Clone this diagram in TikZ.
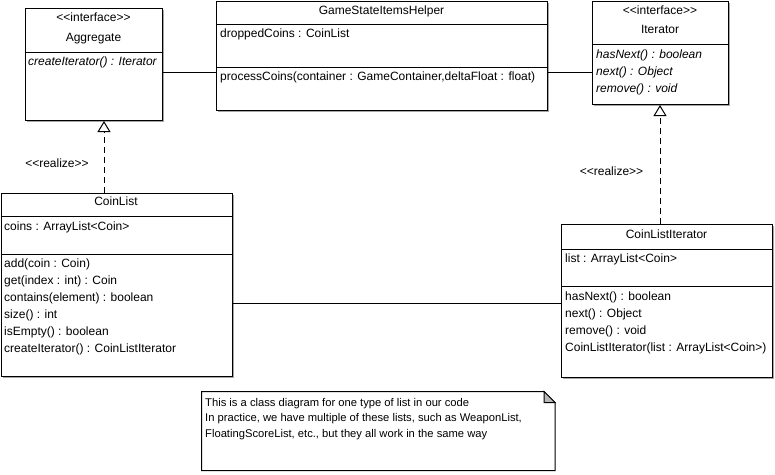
\documentclass[tikz,border=0pt]{standalone}
\usepackage{fontspec}
\setmainfont{Liberation Sans}
\usetikzlibrary{shadows,arrows.meta}

\tikzset{
  classbox/.style={draw=black, line width=1pt, fill=white, inner sep=0pt,
    anchor=north west,
    drop shadow={shadow xshift=1.5pt, shadow yshift=-1.5pt, fill=black!35, opacity=1}},
  txt/.style={inner sep=0pt, font=\fontsize{12}{14}\selectfont, text height=8.5pt, text depth=2.5pt},
  stereo/.style={txt},
  member/.style={txt, anchor=west},
  abstractop/.style={member, font=\fontsize{12}{14}\selectfont\itshape},
  notetext/.style={member, font=\fontsize{11.2}{13}\selectfont},
  divider/.style={line width=1pt},
  assoc/.style={line width=1pt},
  realize/.style={line width=1pt, dash pattern=on 6pt off 4pt,
    -{Triangle[open, length=11pt, width=13pt, line width=1pt]}},
  notebody/.style={draw=black, line width=1pt, fill=white},
  notefold/.style={draw=black, line width=1pt, fill=black!28, line join=miter},
}

\begin{document}
\begin{tikzpicture}[x=1pt, y=-1pt]
\useasboundingbox (0,0) rectangle (775,474);

% ---------- Aggregate interface ----------
\node[classbox, minimum width=137pt, minimum height=112pt] (agg) at (25,8) {};
\coordinate (aggdiv) at (0,52);
\draw[divider] (agg.west |- aggdiv) -- (agg.east |- aggdiv);
\node[stereo] (aggst) at (93.5,18) {<{}<interface>{}>};
\node[txt] (aggname) at (93.5,38) {Aggregate};
\node[abstractop] (aggop) at (28,62) {createIterator() : Iterator};

% ---------- GameStateItemsHelper ----------
\node[classbox, minimum width=331pt, minimum height=109.5pt] (helper) at (216,0.5) {};
\coordinate (helpdiva) at (0,24);
\coordinate (helpdivb) at (0,67);
\draw[divider] (helper.west |- helpdiva) -- (helper.east |- helpdiva);
\draw[divider] (helper.west |- helpdivb) -- (helper.east |- helpdivb);
\node[txt] (helpname) at (381.5,11) {GameStateItemsHelper};
\node[member] (helpattr) at (220,34) {droppedCoins : CoinList};
\node[member] (helpop) at (220,77) {processCoins(container : GameContainer,deltaFloat : float)};

% ---------- Iterator interface ----------
\node[classbox, minimum width=136pt, minimum height=103.5pt] (iter) at (592,0.5) {};
\coordinate (iterdiv) at (0,44);
\draw[divider] (iter.west |- iterdiv) -- (iter.east |- iterdiv);
\node[stereo] (iterst) at (660,11) {<{}<interface>{}>};
\node[txt] (itername) at (660,30) {Iterator};
\node[abstractop] (iterop1) at (596,55) {hasNext() : boolean};
\node[abstractop] (iterop2) at (596,72) {next() : Object};
\node[abstractop] (iterop3) at (596,89) {remove() : void};

% ---------- CoinList ----------
\node[classbox, minimum width=231.5pt, minimum height=183.5pt] (clist) at (0.5,192.5) {};
\coordinate (cldiva) at (0,216);
\coordinate (cldivb) at (0,254);
\draw[divider] (clist.west |- cldiva) -- (clist.east |- cldiva);
\draw[divider] (clist.west |- cldivb) -- (clist.east |- cldivb);
\node[txt] (clname) at (116,202) {CoinList};
\node[member] (clattr) at (4,227) {coins : ArrayList<Coin>};
\node[member] (clop1) at (4,264) {add(coin : Coin)};
\node[member] (clop2) at (4,281) {get(index : int) : Coin};
\node[member] (clop3) at (4,298) {contains(element) : boolean};
\node[member] (clop4) at (4,315) {size() : int};
\node[member] (clop5) at (4,332) {isEmpty() : boolean};
\node[member] (clop6) at (4,349) {createIterator() : CoinListIterator};

% ---------- CoinListIterator ----------
\node[classbox, minimum width=211pt, minimum height=152.5pt] (cliter) at (561,224) {};
\coordinate (cidiva) at (0,249);
\coordinate (cidivb) at (0,286);
\draw[divider] (cliter.west |- cidiva) -- (cliter.east |- cidiva);
\draw[divider] (cliter.west |- cidivb) -- (cliter.east |- cidivb);
\node[txt] (ciname) at (666.5,235) {CoinListIterator};
\node[member] (ciattr) at (565,259) {list : ArrayList<Coin>};
\node[member] (ciop1) at (565,297) {hasNext() : boolean};
\node[member] (ciop2) at (565,314) {next() : Object};
\node[member] (ciop3) at (565,331) {remove() : void};
\node[member] (ciop4) at (565,348) {CoinListIterator(list : ArrayList<Coin>)};

% ---------- associations ----------
\coordinate (assoctop) at (0,72);
\draw[assoc] (agg.east |- assoctop) -- (helper.west |- assoctop);
\draw[assoc] (helper.east |- assoctop) -- (iter.west |- assoctop);
\coordinate (assocmid) at (0,303);
\draw[assoc] (clist.east |- assocmid) -- (cliter.west |- assocmid);

% ---------- realizations ----------
\coordinate (realx1) at (104,0);
\coordinate (realx2) at (660,0);
\draw[realize] (clist.north -| realx1) -- (agg.south -| realx1);
\draw[realize] (cliter.north -| realx2) -- (iter.south -| realx2);
\node[stereo] (real1) at (57,164) {<{}<realize>{}>};
\node[stereo] (real2) at (611.5,172.5) {<{}<realize>{}>};

% ---------- note ----------
\coordinate (nA) at (201.5,391.5);
\coordinate (nB) at (544,391.5);
\coordinate (nC) at (555,402.5);
\coordinate (nD) at (555,470.5);
\coordinate (nE) at (201.5,470.5);
\coordinate (nF) at (544,402.5);
\draw[notebody] (nA) -- (nB) -- (nC) -- (nD) -- (nE) -- cycle;
\draw[notefold] (nB) -- (nC) -- (nF) -- cycle;
\node[notetext] (note1) at (205,403) {This is a class diagram for one type of list in our code};
\node[notetext] (note2) at (205,418.5) {In practice, we have multiple of these lists, such as WeaponList,};
\node[notetext] (note3) at (205,434) {FloatingScoreList, etc., but they all work in the same way};
\end{tikzpicture}
\end{document}
